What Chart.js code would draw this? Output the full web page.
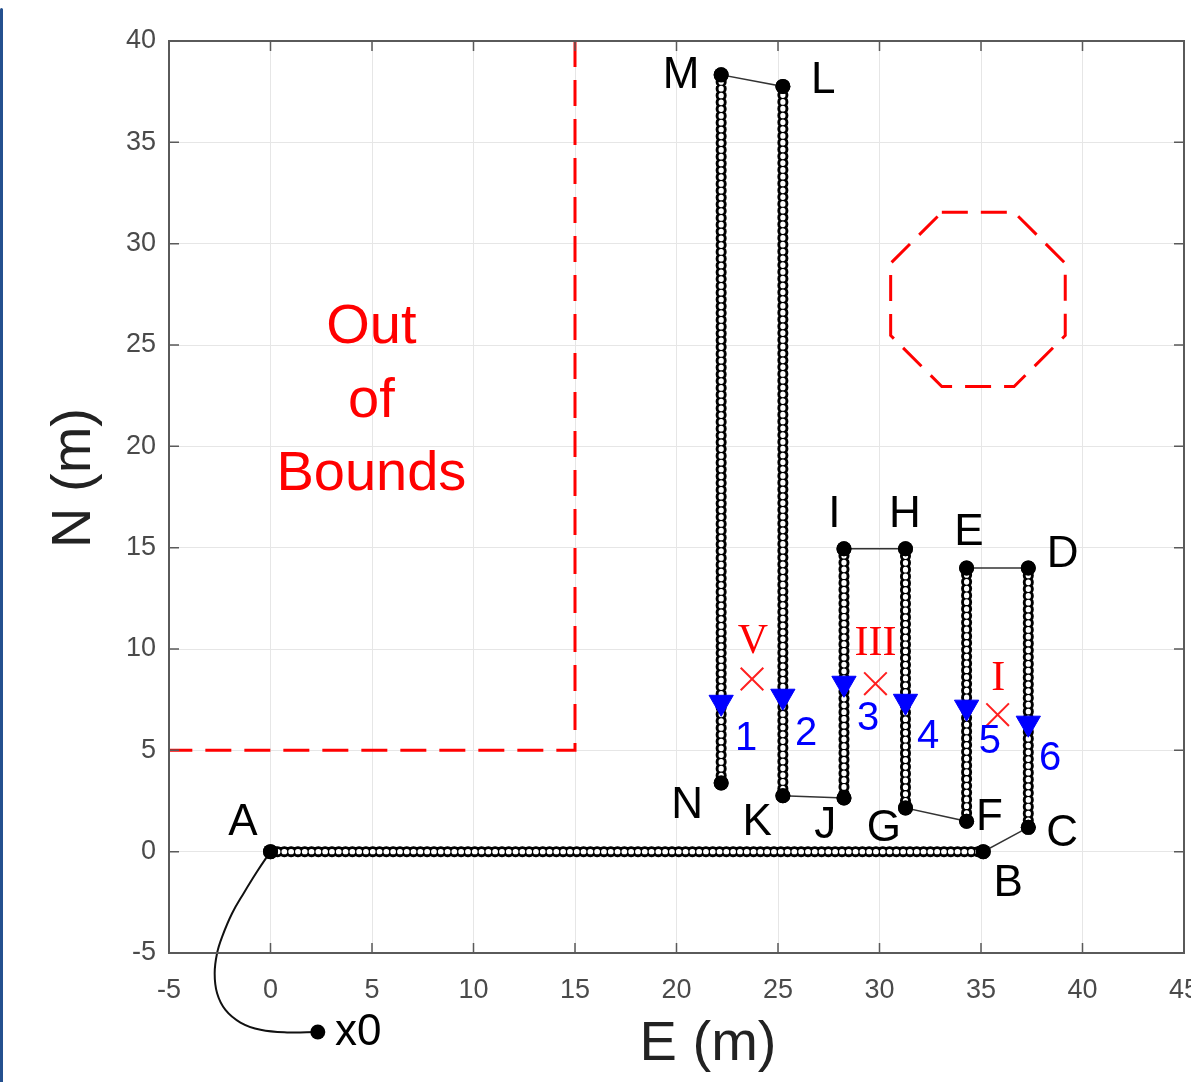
<!DOCTYPE html>
<html>
<head>
<meta charset="utf-8">
<script src="https://cdn.jsdelivr.net/npm/chart.js@4.4.1/dist/chart.umd.min.js"></script>
<style>
html,body{margin:0;padding:0;background:#fff;}
#wrap{position:relative;width:1191px;height:1082px;overflow:hidden;}
#c{display:block;}
#stripe{position:absolute;left:0;top:8px;width:3px;height:1074px;background:#24508f;border-radius:2px 2px 0 0;}
</style>
</head>
<body>
<div id="wrap"><canvas id="c" width="1191" height="1082"></canvas><div id="stripe"></div></div>
<script>
// ---------- data ----------
const xTicks = [-5, 0, 5, 10, 15, 20, 25, 30, 35, 40, 45];
const yTicks = [-5, 0, 5, 10, 15, 20, 25, 30, 35, 40];

// waypoints A..N
const wpNames = ['A','B','C','D','E','F','G','H','I','J','K','L','M','N'];
const wpE = [0, 35.11, 37.33, 37.33, 34.29, 34.29, 31.28, 31.28, 28.25, 28.25, 25.24, 25.24, 22.2, 22.2];
const wpN = [0, 0, 1.2, 14.0, 14.0, 1.5, 2.16, 14.95, 14.95, 2.65, 2.76, 37.76, 38.33, 3.39];
// sampled legs (index pairs into waypoints)
const sampledLegs = [[0,1],[2,3],[4,5],[6,7],[8,9],[10,11],[12,13]];

// start point x0 and approach path to A
const startE = 2.33, startN = -8.9;
const approachE = [2.33, 0.82, -0.49, -1.48, -2.22, -2.63, -2.75, -2.63, -2.38, -1.89, -1.32, -0.66, 0];
const approachN = [-8.9, -8.92, -8.79, -8.43, -7.81, -6.99, -6.0, -5.0, -4.19, -3.04, -2.05, -0.98, 0];

// blue triangles (numbered)
const triLabels = ['1','2','3','4','5','6'];
const triE = [22.2, 25.24, 28.25, 31.28, 34.29, 37.33];
const triN = [7.37, 7.67, 8.31, 7.42, 7.13, 6.34];
const triLabelE = [23.43, 26.39, 29.44, 32.4, 35.44, 38.4];
const triLabelN = [5.0, 5.28, 6.02, 5.12, 4.87, 4.05];

// red crosses (roman numerals)
const crossLabels = ['V','III','I'];
const crossE = [23.72, 29.8, 35.82];
const crossN = [8.52, 8.29, 6.76];
const crossLabelE = [23.76, 29.8, 35.85];
const crossLabelN = [9.8, 9.68, 7.96];

// waypoint letter labels
const ptLabelText = ['A','B','C','D','E','F','G','H','I','J','K','L','M','N','x0'];
const ptLabelE = [-1.36, 36.34, 39.0, 39.02, 34.41, 35.42, 30.22, 31.25, 27.78, 27.33, 23.98, 27.23, 20.23, 20.52, 4.32];
const ptLabelN = [0.84, -2.2, 0.3, 14.07, 15.15, 1.09, 0.51, 16.03, 16.03, 0.68, 0.84, 37.43, 37.7, 1.66, -9.52];

// out-of-bounds boundary
const boundE = [15, 15, -5];
const boundN = [40, 5, 5];
const boundText = ['Out', 'of', 'Bounds'];
const boundTextE = 4.97;
const boundTextN = [25.11, 21.46, 17.86];

// octagon obstacle
const octE = [33.07, 36.63, 39.15, 39.15, 36.63, 33.07, 30.55, 30.55, 33.07];
const octN = [31.55, 31.55, 29.03, 25.47, 22.95, 22.95, 25.47, 29.03, 31.55];

// ---------- helpers ----------
const zip = (xs, ys) => xs.map((x, i) => ({x: x, y: ys[i]}));
const ringData = [];
sampledLegs.forEach(([a, b]) => {
  ringData.push({x: wpE[a], y: wpN[a]}, {x: wpE[b], y: wpN[b]}, {x: wpE[b], y: null});
});
const SANS = '"Liberation Sans", Arial, Helvetica, sans-serif';
const SERIF = '"Liberation Serif", "Times New Roman", serif';
const WAYPOINT_DS = 2;

const decor = {
  id: 'decor',
  afterDatasetsDraw(chart) {
    const ctx = chart.ctx, xs = chart.scales.x, ys = chart.scales.y, a = chart.chartArea;
    ctx.save();
    // start marker x0 lies outside the plot box: draw the library's point element without area culling
    const meta = chart.getDatasetMeta(WAYPOINT_DS);
    meta.data.forEach(el => el.draw(ctx));
    // box
    ctx.strokeStyle = '#5a5a5a';
    ctx.lineWidth = 2;
    ctx.strokeRect(a.left, a.top, a.right - a.left, a.bottom - a.top);
    // inward ticks
    ctx.lineWidth = 1.5;
    ctx.beginPath();
    xTicks.forEach(v => {
      const p = xs.getPixelForValue(v);
      ctx.moveTo(p, a.bottom); ctx.lineTo(p, a.bottom - 10);
      ctx.moveTo(p, a.top); ctx.lineTo(p, a.top + 10);
    });
    yTicks.forEach(v => {
      const p = ys.getPixelForValue(v);
      ctx.moveTo(a.left, p); ctx.lineTo(a.left + 10, p);
      ctx.moveTo(a.right, p); ctx.lineTo(a.right - 10, p);
    });
    ctx.stroke();

    ctx.textAlign = 'center';
    ctx.textBaseline = 'alphabetic';
    // out of bounds text
    ctx.fillStyle = '#ff0000';
    ctx.font = '56px ' + SANS;
    boundText.forEach((t, i) => ctx.fillText(t, xs.getPixelForValue(boundTextE), ys.getPixelForValue(boundTextN[i])));
    // roman numerals
    ctx.font = '42px ' + SERIF;
    crossLabels.forEach((t, i) => ctx.fillText(t, xs.getPixelForValue(crossLabelE[i]), ys.getPixelForValue(crossLabelN[i])));
    // blue numbers
    ctx.fillStyle = '#0000ff';
    ctx.font = '40px ' + SANS;
    triLabels.forEach((t, i) => ctx.fillText(t, xs.getPixelForValue(triLabelE[i]), ys.getPixelForValue(triLabelN[i])));
    // letters
    ctx.fillStyle = '#000';
    ctx.font = '44px ' + SANS;
    ptLabelText.forEach((t, i) => ctx.fillText(t, xs.getPixelForValue(ptLabelE[i]), ys.getPixelForValue(ptLabelN[i])));
    ctx.restore();
  },
  afterDraw(chart) {
    const ctx = chart.ctx;
    ctx.save();
    ctx.fillStyle = '#222';
    ctx.font = '56px ' + SANS;
    ctx.textAlign = 'center';
    ctx.textBaseline = 'alphabetic';
    ctx.fillText('E (m)', 708, 1060);
    ctx.translate(90, 478);
    ctx.rotate(-Math.PI / 2);
    ctx.fillText('N (m)', 0, 0);
    ctx.restore();
  }
};

new Chart(document.getElementById('c'), {
  type: 'scatter',
  data: {
    datasets: [
      { label: 'targets', data: zip(triE, triN), order: 0, showLine: false,
        pointStyle: 'triangle', rotation: 180, pointRadius: 14,
        backgroundColor: '#0000ff', borderColor: '#0000ff', borderWidth: 1 },
      { label: 'sources', data: zip(crossE, crossN), order: 1, showLine: false,
        pointStyle: 'crossRot', pointRadius: 16, borderColor: '#ff2020', borderWidth: 2 },
      { label: 'waypoints', data: zip(wpE.concat([startE]), wpN.concat([startN])), order: 2, showLine: false,
        pointRadius: 7.5, backgroundColor: '#000', borderColor: '#000', borderWidth: 0, clip: false },
      { label: 'samplesInner', data: ringData, order: 3, showLine: true, spanGaps: false,
        borderColor: '#ffffff', borderWidth: 5.2, borderDash: [0.5, 6.3], borderCapStyle: 'round',
        pointRadius: 0, tension: 0 },
      { label: 'samples', data: ringData, order: 4, showLine: true, spanGaps: false,
        borderColor: '#000000', borderWidth: 11, borderDash: [0.5, 6.3], borderCapStyle: 'round',
        pointRadius: 0, tension: 0 },
      { label: 'path', data: zip(wpE, wpN), order: 5, showLine: true,
        borderColor: '#333', borderWidth: 1.5, pointRadius: 0, tension: 0 },
      { label: 'approach', data: zip(approachE, approachN), order: 5, showLine: true,
        borderColor: '#111', borderWidth: 2, pointRadius: 0, tension: 0.4, clip: false },
      { label: 'bound', data: zip(boundE, boundN), order: 6, showLine: true,
        borderColor: '#ff0000', borderWidth: 3, borderDash: [26, 13], pointRadius: 0, tension: 0 },
      { label: 'obstacle', data: zip(octE, octN), order: 6, showLine: true,
        borderColor: '#ff0000', borderWidth: 3, borderDash: [26, 13], pointRadius: 0, tension: 0 }
    ]
  },
  options: {
    responsive: false,
    animation: false,
    devicePixelRatio: 1,
    layout: { autoPadding: false, padding: { left: 0, top: 41, right: 7, bottom: 0 } },
    plugins: { legend: { display: false }, tooltip: { enabled: false } },
    scales: {
      x: {
        type: 'linear', min: -5, max: 45,
        afterBuildTicks: s => { s.ticks = xTicks.map(v => ({ value: v })); },
        afterFit: s => { s.height = 129; s.paddingLeft = 0; s.paddingRight = 0; },
        grid: { color: '#e6e6e6', lineWidth: 1, drawTicks: false },
        border: { display: false },
        ticks: { font: { family: SANS, size: 27 }, color: '#4a4a4a', padding: 21, maxRotation: 0, autoSkip: false }
      },
      y: {
        type: 'linear', min: -5, max: 40,
        afterBuildTicks: s => { s.ticks = yTicks.map(v => ({ value: v })); },
        afterFit: s => { s.width = 169; s.paddingTop = 0; s.paddingBottom = 0; },
        grid: { color: '#e6e6e6', lineWidth: 1, drawTicks: false },
        border: { display: false },
        ticks: { font: { family: SANS, size: 27 }, color: '#4a4a4a', padding: 13, autoSkip: false }
      }
    }
  },
  plugins: [decor]
});
</script>
</body>
</html>
